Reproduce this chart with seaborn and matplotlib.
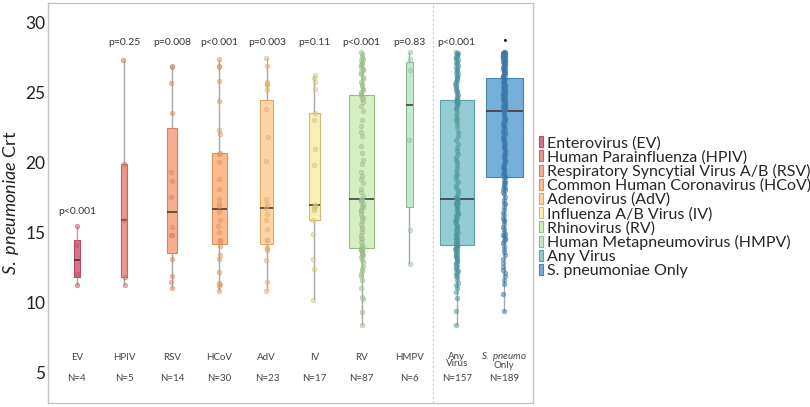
import numpy as np
import pandas as pd
import matplotlib
matplotlib.use("Agg")
import matplotlib.pyplot as plt
from matplotlib.patches import Patch
import seaborn as sns

# groupes et valeurs (Crt de S. pneumoniae)
groups = ["EV", "HPIV", "RSV", "HCoV", "AdV", "IV", "RV", "HMPV", "Any Virus", "S. pneumo Only"]
tick_labels = ["EV", "HPIV", "RSV", "HCoV", "AdV", "IV", "RV", "HMPV",
               "Any\nVirus", "$\\mathit{S.\\ pneumo}$\nOnly"]
legend_names = ["Enterovirus (EV)", "Human Parainfluenza (HPIV)",
                "Respiratory Syncytial Virus A/B (RSV)", "Common Human Coronavirus (HCoV)",
                "Adenovirus (AdV)", "Influenza A/B Virus (IV)", "Rhinovirus (RV)",
                "Human Metapneumovirus (HMPV)", "Any Virus", "S. pneumoniae Only"]
p_values = ["p<0.001", "p=0.25", "p=0.008", "p<0.001", "p=0.003", "p=0.11",
            "p<0.001", "p=0.83", "p<0.001", ""]
n_labels = ["N=4", "N=5", "N=14", "N=30", "N=23", "N=17", "N=87", "N=6", "N=157", "N=189"]

ev = [11.2, 12.0, 14.1, 15.45]
hpiv = [11.2, 11.8, 15.85, 19.85, 27.35]
rsv = [11.05, 11.43, 11.9, 13.1, 14.83, 14.83, 15.38, 17.55, 18.64, 19.33,
       23.5, 25.66, 26.79, 26.88]
hcov = [10.81, 11.14, 11.29, 11.40, 12.17, 13.07, 13.36, 14.05, 14.38, 14.38,
        14.48, 15.02, 15.43, 15.88, 16.45, 16.88, 17.0, 17.36, 18.10, 18.83,
        20.05, 20.57, 20.67, 22.05, 22.33, 24.38, 25.79, 26.81, 26.90, 27.40]
adv = [10.81, 11.45, 13.0, 13.71, 13.9, 13.9, 14.43, 14.48, 15.21, 15.86,
       16.29, 16.74, 17.05, 17.40, 20.1, 21.81, 23.83, 25.14, 25.5, 25.62,
       25.74, 26.88, 27.48]
iv = [10.19, 12.40, 13.07, 14.86, 15.86, 16.57, 16.7, 16.85, 16.93, 19.83,
      20.93, 23.0, 23.55, 25.21, 25.74, 26.0, 26.21]
rv = [8.4, 9.3, 10.2, 10.4, 11.0, 11.6, 11.9, 12.0, 12.2, 12.4,
      12.6, 12.9, 13.0, 13.2, 13.3, 13.4, 13.5, 13.6, 13.7, 13.7,
      13.8, 13.85, 13.95, 14.1, 14.3, 14.5, 14.6, 14.8, 15.0, 15.2,
      15.4, 15.6, 15.8, 16.0, 16.1, 16.3, 16.5, 16.6, 16.8, 16.9,
      17.0, 17.2, 17.3, 17.4, 17.6, 17.9, 18.1, 18.5, 18.8, 19.0,
      19.3, 19.9, 20.2, 20.7, 21.2, 21.9, 22.2, 22.6, 23.0, 23.7,
      24.0, 24.3, 24.5, 24.6, 24.78, 24.9, 25.0, 25.14, 25.26, 25.43,
      25.62, 25.74, 25.93, 26.1, 26.29, 26.45, 26.6, 26.69, 26.8, 26.93,
      27.05, 27.17, 27.29, 27.4, 27.52, 27.76, 27.88]
hmpv = [12.76, 15.19, 21.57, 26.57, 27.4, 27.88]
any_virus = [8.4, 9.4, 10.3, 10.7, 11.0, 11.2, 11.4, 11.6, 11.8, 11.9,
             12.0, 12.1, 12.2, 12.3, 12.4, 12.5, 12.6, 12.7, 12.8, 12.9,
             13.0, 13.0, 13.1, 13.2, 13.3, 13.3, 13.4, 13.5, 13.5, 13.6,
             13.7, 13.7, 13.8, 13.8, 13.9, 13.9, 14.0, 14.0, 14.05, 14.07,
             14.1, 14.2, 14.3, 14.4, 14.5, 14.5, 14.6, 14.7, 14.8, 14.9,
             15.0, 15.1, 15.2, 15.3, 15.4, 15.5, 15.6, 15.7, 15.8, 15.9,
             16.0, 16.1, 16.2, 16.3, 16.4, 16.5, 16.6, 16.7, 16.8, 16.9,
             17.0, 17.0, 17.1, 17.1, 17.2, 17.2, 17.3, 17.3, 17.36, 17.5,
             17.6, 17.8, 18.0, 18.2, 18.4, 18.6, 18.8, 19.0, 19.2, 19.4,
             19.6, 19.8, 20.0, 20.2, 20.4, 20.6, 20.8, 21.0, 21.3, 21.6,
             21.9, 22.2, 22.5, 22.8, 23.0, 23.2, 23.4, 23.6, 23.8, 23.9,
             24.0, 24.1, 24.2, 24.25, 24.3, 24.35, 24.4, 24.43, 24.5, 24.6,
             24.7, 24.8, 24.9, 25.0, 25.1, 25.2, 25.3, 25.4, 25.5, 25.6,
             25.7, 25.8, 25.9, 26.0, 26.1, 26.2, 26.3, 26.4, 26.5, 26.6,
             26.7, 26.8, 26.9, 27.0, 27.1, 27.2, 27.3, 27.4, 27.45, 27.5,
             27.55, 27.6, 27.65, 27.7, 27.75, 27.8, 27.88]
sp_only = [9.36, 10.6, 11.3, 11.6, 11.9, 12.1, 12.3, 12.5, 12.8, 13.1,
           13.4, 13.6, 13.8, 14.0, 14.2, 14.4, 14.5, 14.6, 14.7, 14.8,
           14.9, 15.0, 15.2, 15.4, 15.6, 15.8, 15.9, 16.0, 16.2, 16.4,
           16.6, 16.8, 17.0, 17.1, 17.3, 17.5, 17.7, 17.9, 18.0, 18.1,
           18.2, 18.3, 18.4, 18.5, 18.6, 18.7, 18.85, 18.93, 19.0, 19.1,
           19.2, 19.3, 19.4, 19.5, 19.6, 19.7, 19.8, 19.9, 20.0, 20.1,
           20.2, 20.3, 20.4, 20.5, 20.6, 20.7, 20.8, 20.9, 21.0, 21.1,
           21.2, 21.3, 21.4, 21.5, 21.6, 21.7, 21.8, 21.9, 22.0, 22.1,
           22.2, 22.3, 22.4, 22.5, 22.6, 22.7, 22.8, 22.9, 23.0, 23.1,
           23.2, 23.3, 23.4, 23.5, 23.64, 23.7, 23.75, 23.8, 23.85, 23.9,
           23.95, 24.0, 24.05, 24.1, 24.15, 24.2, 24.25, 24.3, 24.35, 24.4,
           24.45, 24.5, 24.55, 24.6, 24.65, 24.7, 24.75, 24.8, 24.85, 24.9,
           24.95, 25.0, 25.05, 25.1, 25.15, 25.2, 25.25, 25.3, 25.35, 25.4,
           25.45, 25.5, 25.55, 25.6, 25.65, 25.7, 25.75, 25.8, 25.85, 25.9,
           25.95, 26.02, 26.05, 26.1, 26.15, 26.2, 26.25, 26.3, 26.35, 26.4,
           26.45, 26.5, 26.55, 26.6, 26.65, 26.7, 26.75, 26.8, 26.85, 26.9,
           26.95, 27.0, 27.05, 27.1, 27.15, 27.2, 27.25, 27.3, 27.35, 27.4,
           27.45, 27.5, 27.5, 27.55, 27.55, 27.6, 27.6, 27.65, 27.65, 27.7,
           27.7, 27.75, 27.75, 27.8, 27.8, 27.85, 27.85, 27.88, 27.88]

values = [ev, hpiv, rsv, hcov, adv, iv, rv, hmpv, any_virus, sp_only]
assert [len(v) for v in values] == [4, 5, 14, 30, 23, 17, 87, 6, 157, 189]

box_fill = ["#d9758a", "#ee9590", "#f8ad90", "#fbbd90", "#fdd5a4",
            "#f8f1b4", "#d6efc3", "#c5e9cf", "#93cdd3", "#76afd9"]
box_edge = ["#b84a62", "#c96460", "#d9805f", "#d99260", "#d9a86a",
            "#c8bd72", "#98b788", "#8fb89a", "#5d9ea5", "#4a84b0"]
point_col = ["#c9576e", "#d96d69", "#e0846a", "#e8995f", "#eeb06a",
             "#d9cc7a", "#9cc48a", "#9cc8a5", "#3f8f97", "#2f6fa8"]

df = pd.DataFrame({
    "group": np.repeat(groups, [len(v) for v in values]),
    "crt": np.concatenate(values),
})

sns.set_style("white")
plt.rcParams["font.family"] = ["Lato", "DejaVu Sans"]
plt.rcParams["mathtext.fontset"] = "custom"
plt.rcParams["mathtext.it"] = "Lato:italic"
plt.rcParams["mathtext.rm"] = "Lato"
np.random.seed(3)

fig = plt.figure(figsize=(8.1, 4.07), dpi=100)
ax = fig.add_axes([0.0593, 0.01, 0.5988, 0.983])

# boxes: largeur proportionnelle a sqrt(N)
for i, g in enumerate(groups):
    sub = df[df["group"] == g]
    sns.boxplot(data=sub, x="group", y="crt", order=groups, ax=ax,
                width=0.057 * np.sqrt(len(sub)), whis=(0, 100), showfliers=False,
                boxprops=dict(facecolor=box_fill[i], edgecolor=box_edge[i], linewidth=0.8),
                whiskerprops=dict(color="#a8a8a8", linewidth=1),
                capprops=dict(visible=False),
                medianprops=dict(color="#3a3030", linewidth=1.1))

for i, g in enumerate(groups):
    sub = df[df["group"] == g]
    sns.stripplot(data=sub, x="group", y="crt", order=groups, ax=ax,
                  color=point_col[i], edgecolor=box_edge[i], linewidth=0.6,
                  size=3.3, alpha=0.5, jitter=0.025, zorder=3)

ax.axvline(7.5, color="#c8c8c8", linestyle=(0, (2, 2)), linewidth=0.8)

ax.set_xlim(-0.61, 9.61)
ax.set_ylim(2.8, 31.4)
ax.set_yticks([5, 10, 15, 20, 25, 30])
ax.tick_params(axis="y", labelsize=12.5, length=0, pad=2, labelcolor="#222222")
ax.set_xticks([])
ax.set_xlabel("")
ax.set_ylabel(r"$\mathit{S.\ pneumoniae}$ Crt", fontsize=13, color="#222222")
ax.yaxis.set_label_coords(-0.056, 0.5)
for s in ax.spines.values():
    s.set_color("#c4c4c4")
    s.set_linewidth(1)

# annotations
for i, g in enumerate(groups):
    ytop = 16.5 if i == 0 else 28.55
    if p_values[i]:
        ax.text(i, ytop, p_values[i], ha="center", va="center", fontsize=7.5, color="#333333")
    ax.text(i, 4.57, n_labels[i], ha="center", va="center", fontsize=7, color="#444444")
    if i < 8:
        ax.text(i, 6.07, tick_labels[i], ha="center", va="center", fontsize=7, color="#444444")
    else:
        ax.text(i, 5.85, tick_labels[i], ha="center", va="center", fontsize=7,
                color="#444444", linespacing=0.75)
ax.text(9, 28.75, "\u2022", ha="center", va="center", fontsize=6, color="#111111")

handles = [Patch(facecolor=box_fill[i], edgecolor=box_edge[i], linewidth=0.8) for i in range(len(groups))]
ax.legend(handles, legend_names, loc="center left", bbox_to_anchor=(1.0, 0.49),
          frameon=False, fontsize=11.5, handlelength=0.3, handleheight=0.7,
          handletextpad=0.25, labelspacing=-0.02, borderaxespad=0.15, borderpad=0.2)

fig.savefig("out.png", dpi=100)
